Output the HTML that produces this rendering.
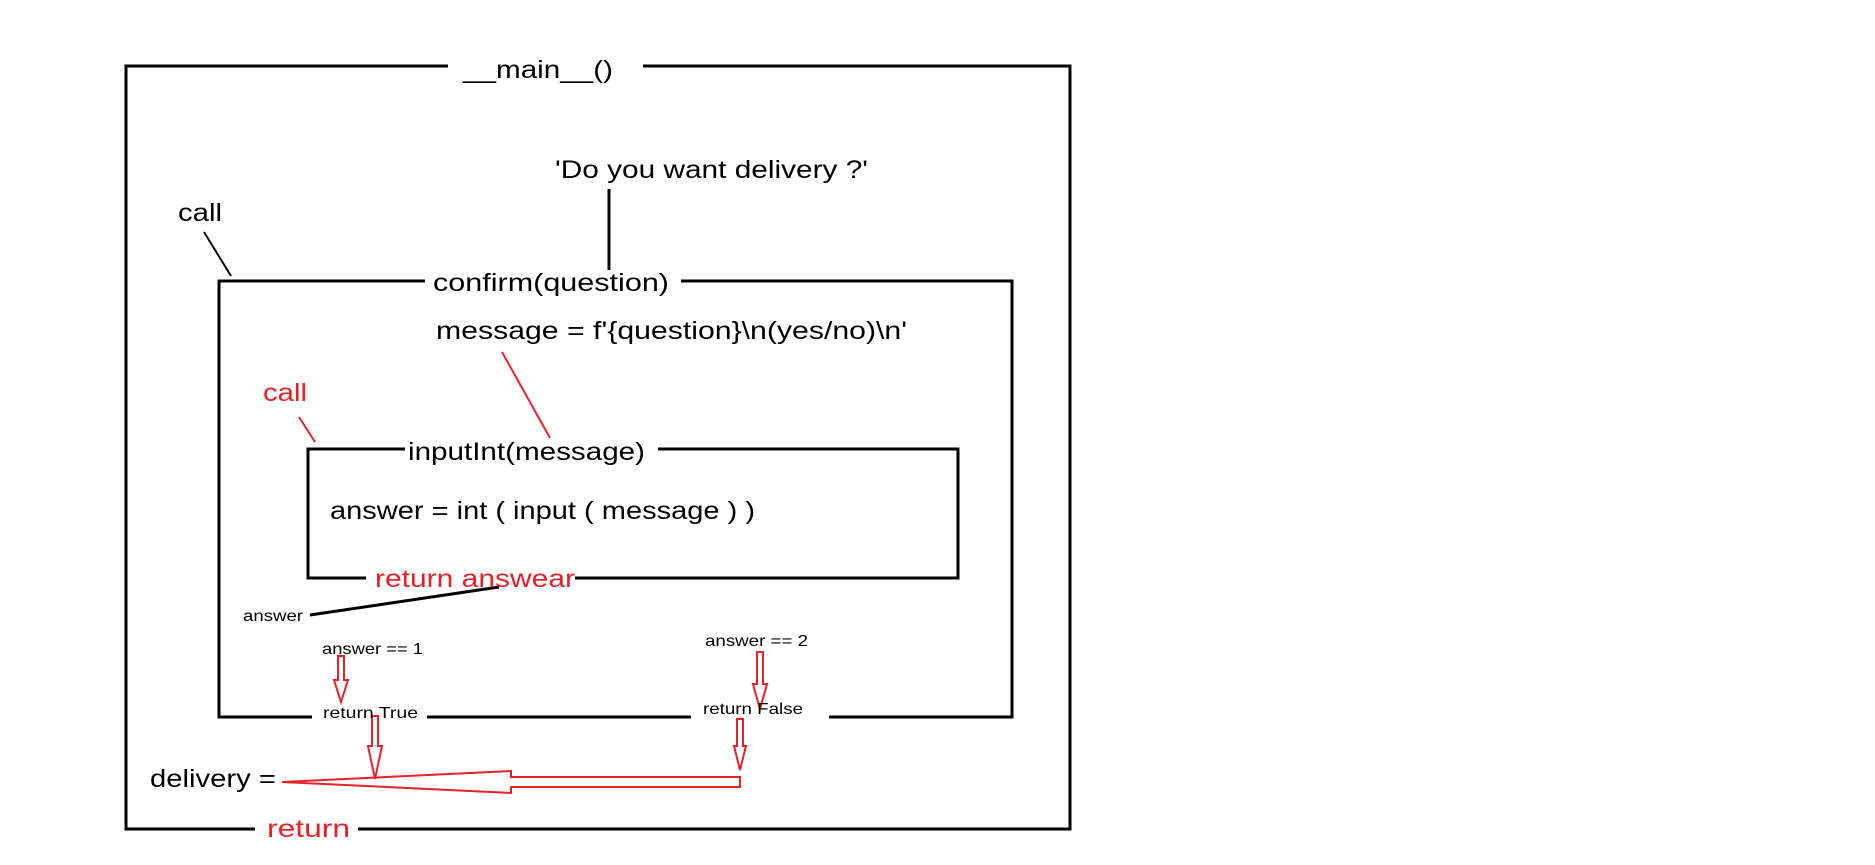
<!DOCTYPE html>
<html><head><meta charset="utf-8"><style>html,body{margin:0;padding:0;background:#fff}svg{display:block}text{font-family:"Liberation Sans",sans-serif}</style></head>
<body>
<svg width="1875" height="865" viewBox="0 0 1875 865" xmlns="http://www.w3.org/2000/svg">
<g stroke="#000" stroke-width="3" fill="none">
<!-- outer box -->
<polyline points="448,66 126,66 126,829 255,829"/>
<polyline points="643,66 1070,66 1070,829 358,829"/>
<!-- confirm box -->
<polyline points="425,281 219,281 219,717 312,717"/>
<polyline points="681,281 1012,281 1012,717 829,717"/>
<line x1="427" y1="717" x2="691" y2="717"/>
<!-- inputInt box -->
<polyline points="405,449 308,449 308,578 366,578"/>
<polyline points="658,449 958,449 958,578 575,578"/>
<line x1="609" y1="189" x2="609" y2="270"/>
<line x1="204" y1="232" x2="231" y2="276" stroke-width="2"/>
<line x1="310" y1="615" x2="499" y2="587"/>
</g>
<g stroke="#e8202a" stroke-width="2" fill="none">
<line x1="502" y1="352" x2="550" y2="438"/>
<line x1="299" y1="417" x2="315" y2="442"/>
<!-- small down arrows -->
<polygon points="338,656 344,656 344,680 348,680 341,702 334,680 338,680"/>
<polygon points="757,652 763,652 763,684 767,684 760,709 753,684 757,684"/>
<polygon points="372,716 378,716 378,746 382,746 375,779 368,746 372,746"/>
<polygon points="737,719 743,719 743,746 746,746 740,770 734,746 737,746"/>
<!-- big left arrow -->
<polygon points="740,777 511,777 511,771 282,782 511,793 511,787 740,787"/>
</g>
<g font-size="25" fill="#000">
<text x="463" y="78" textLength="150" lengthAdjust="spacingAndGlyphs">__main__()</text>
<text x="555" y="178" textLength="313" lengthAdjust="spacingAndGlyphs">'Do you want delivery ?'</text>
<text x="178" y="221" textLength="44" lengthAdjust="spacingAndGlyphs">call</text>
<text x="433" y="291" textLength="236" lengthAdjust="spacingAndGlyphs">confirm(question)</text>
<text x="436" y="339" textLength="471" lengthAdjust="spacingAndGlyphs">message = f'{question}\n(yes/no)\n'</text>
<text x="263" y="401" textLength="44" lengthAdjust="spacingAndGlyphs" fill="#e8202a">call</text>
<text x="408" y="460" textLength="237" lengthAdjust="spacingAndGlyphs">inputInt(message)</text>
<text x="330" y="519" textLength="425" lengthAdjust="spacingAndGlyphs">answer = int ( input ( message ) )</text>
<text x="375" y="587" textLength="200" lengthAdjust="spacingAndGlyphs" fill="#e8202a">return answear</text>
<text x="150" y="787" textLength="126" lengthAdjust="spacingAndGlyphs">delivery =</text>
<text x="267" y="837" textLength="83" lengthAdjust="spacingAndGlyphs" fill="#e8202a">return</text>
</g>
<g font-size="16" fill="#000">
<text x="243" y="621" textLength="60" lengthAdjust="spacingAndGlyphs">answer</text>
<text x="322" y="654" textLength="101" lengthAdjust="spacingAndGlyphs">answer == 1</text>
<text x="705" y="646" textLength="103" lengthAdjust="spacingAndGlyphs">answer == 2</text>
<text x="323" y="718" textLength="95" lengthAdjust="spacingAndGlyphs">return True</text>
<text x="703" y="714" textLength="100" lengthAdjust="spacingAndGlyphs">return False</text>
</g>
</svg>
</body></html>
